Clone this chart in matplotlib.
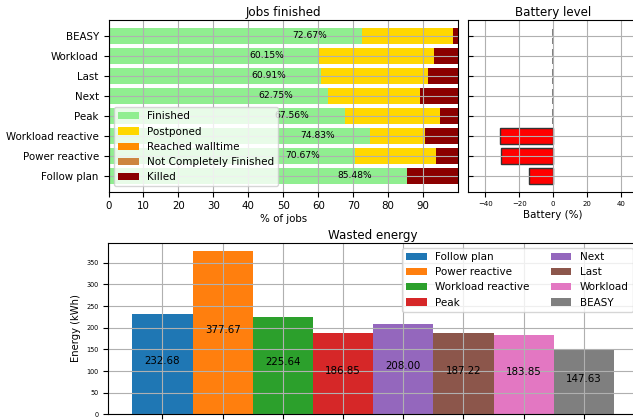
import numpy as np
import matplotlib
matplotlib.use("Agg")
import matplotlib.pyplot as plt

# policies, bottom row first
policies = ["Follow plan", "Power reactive", "Workload reactive", "Peak",
            "Next", "Last", "Workload", "BEASY"]
finished = [85.48, 70.67, 74.83, 67.56, 62.75, 60.91, 60.15, 72.67]
postponed = [0.0, 23.0, 15.8, 27.4, 26.5, 30.6, 33.0, 26.0]
walltime = [0, 0, 0, 0, 0, 0, 0, 0]
not_complete = [0, 0, 0, 0, 0, 0, 0, 0]
killed = [14.52, 6.33, 9.37, 5.04, 10.75, 8.49, 6.85, 1.33]
battery = [-14.4, -30.7, -31.5, 0, 0, 0, 0, 0]
energy = [232.68, 377.67, 225.64, 186.85, 208.00, 187.22, 183.85, 147.63]

W, H = 633, 420
fig = plt.figure(figsize=(W / 100, H / 100), dpi=100)

ax1 = fig.add_axes([108.5 / W, (H - 191.7) / H, (458 - 108.5) / W, (191.7 - 20) / H])
ax2 = fig.add_axes([468.3 / W, (H - 191.7) / H, (638 - 468.3) / W, (191.7 - 20) / H], sharey=ax1)
ax3 = fig.add_axes([108.3 / W, (H - 414.3) / H, (638 - 108.3) / W, (414.3 - 242.7) / H])

y = np.arange(len(policies))
left = np.zeros(len(policies))
parts = [("Finished", finished, "lightgreen"),
         ("Postponed", postponed, "gold"),
         ("Reached walltime", walltime, "darkorange"),
         ("Not Completely Finished", not_complete, "peru"),
         ("Killed", killed, "darkred")]
for name, vals, col in parts:
    ax1.barh(y, vals, left=left, color=col, label=name)
    left = left + np.array(vals)

for i, v in enumerate(finished):
    ax1.text(v - 15, i, "%.2f%%" % v, ha="center", va="center", fontsize=6.6)

ax1.set_xlim(0, 100)
ax1.set_xticks(range(0, 100, 10))
ax1.set_yticks(y)
ax1.set_yticklabels(policies)
ax1.tick_params(labelsize=7.4)
ax1.grid(True)
ax1.set_xlabel("% of jobs", fontsize=7.4, labelpad=2)
ax1.set_title("Jobs finished", fontsize=8.6, pad=3)
ax1.legend(loc="lower left", fontsize=7.5)

# battery
for i, b in enumerate(battery):
    if b == 0:
        ax2.barh(i, b, color="red", edgecolor="gray", linestyle="--", linewidth=1.2)
    else:
        ax2.barh(i, b, color="red", edgecolor="#333333", linewidth=1.0)
ax2.set_xlim(-50, 50)
ax2.set_xticks([-40, -20, 0, 20, 40])
ax2.tick_params(axis="x", labelsize=5)
ax2.tick_params(axis="y", direction="in", labelleft=False)
ax2.grid(True)
ax2.set_xlabel("Battery (%)", fontsize=7.4, labelpad=2)
ax2.set_title("Battery level", fontsize=8.6, pad=3)

# wasted energy
colors = plt.rcParams["axes.prop_cycle"].by_key()["color"]
for i, e in enumerate(energy):
    ax3.bar(i, e, width=1.0, color=colors[i], label=policies[i])
    ax3.text(i, e / 2, "%.2f" % e, ha="center", fontsize=7.4)
ax3.set_xticks(range(len(energy)))
ax3.set_xticklabels([])
ax3.tick_params(axis="y", labelsize=4.7)
ax3.grid(True)
ax3.set_ylabel("Energy (kWh)", fontsize=7.2)
ax3.set_title("Wasted energy", fontsize=8.6, pad=3)
ax3.legend(loc="upper right", ncol=2, fontsize=7.5)

fig.savefig("out.png", dpi=100)
